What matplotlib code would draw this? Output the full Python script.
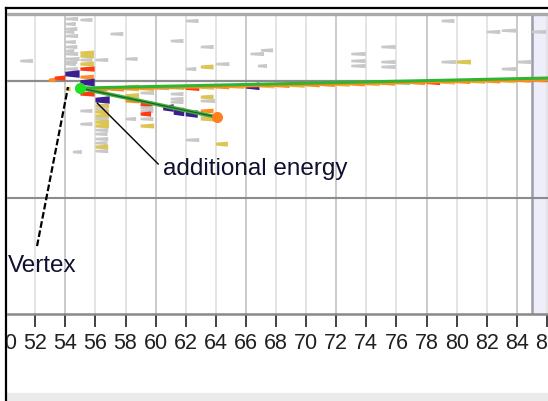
import matplotlib
matplotlib.use("Agg")
import matplotlib.pyplot as plt
from matplotlib.lines import Line2D
from matplotlib.patches import Rectangle

plt.rcParams["font.family"] = ["Liberation Sans", "DejaVu Sans"]

# tick labels along the beam axis
ticks = list(range(50, 88, 2))

# tracks: vertex -> end points
vertex = (54.98, -0.48)
long_end = (88.0, 0.25)
short_end = (64.08, -2.47)

# hits: column start, y, colour code, width
hit_x = [52.9, 53.3, 51.0,
         54.0, 54.0, 54.0, 54.0, 54.0, 54.0, 54.0, 54.0, 54.0, 54.0, 54.0, 54.0, 54.0, 54.0, 54.0,
         55.0, 55.0, 55.0, 55.0, 55.0, 55.0, 55.0, 55.0, 55.0, 55.0, 55.0, 55.9,
         56.0, 56.0, 56.0, 56.0, 56.0, 56.0, 56.0, 56.0, 56.0, 56.0, 56.0, 56.0, 56.0, 56.0, 56.0,
         57.0, 58.0, 58.0, 58.0, 58.0, 58.0,
         59.0, 59.0, 59.0, 59.0, 59.0, 59.0, 59.0,
         60.5, 61.3, 61.2, 62.0, 63.0, 63.0, 61.0, 61.0, 61.0,
         61.0, 62.0, 63.0, 63.0, 62.0, 64.0, 64.0, 62.0, 54.5, 63.0, 63.0, 63.0,
         66.3, 66.8, 67.0, 73.0, 73.0, 73.0, 75.0, 75.0, 75.0,
         79.0, 79.0, 80.0, 82.0, 83.0, 84.0, 83.0, 85.0]
hit_y = [0.07, 0.20, 1.37,
         4.25, 3.90, 3.56, 3.36, 3.08, 2.67, 2.33, 2.05, 1.85, 1.51, 1.30, 1.16, 0.82, 0.48, -0.55,
         4.18, 1.92, 1.71, 1.44, 1.16, 0.82, 0.27, -0.10, -0.89, -2.05, -2.95, -0.55,
         -1.30, -1.71, -1.92, -2.12, -2.40, -2.60, -2.81, -3.08, -3.36, -3.63, -3.97, -4.25, -4.52, -4.80, 1.44,
         3.22, -0.41, -1.00, -1.37, -2.60, 1.51,
         -1.62, -0.82, -1.85, -2.05, -2.26, -2.60, -3.08,
         -1.85, -2.00, -2.15, -2.26, -2.05, -2.47, -0.89, -1.23, -1.44,
         2.74, 4.11, 2.33, 0.96, 0.82, 1.16, -4.32, -4.04, -4.86, -1.37, -1.10, -2.60,
         1.85, 1.03, 2.10, 1.85, 1.37, 1.03, 2.33, 1.30, 0.96,
         4.11, 1.30, 1.30, 3.36, 3.45, 1.30, 0.82, 3.36]
hit_c = ["o", "r", "g",
         "g", "g", "g", "g", "g", "g", "g", "g", "g", "g", "g", "g", "g", "b", "y",
         "g", "y", "y", "g", "y", "r", "o", "b", "r", "g", "g", "o",
         "b", "y", "g", "y", "y", "g", "y", "y", "g", "g", "g", "g", "y", "g", "g",
         "g", "y", "y", "o", "g", "g",
         "r", "g", "g", "g", "r", "g", "y",
         "b", "r", "b", "b", "o", "g", "g", "g", "g",
         "g", "g", "g", "y", "g", "g", "y", "g", "g", "g", "y", "y",
         "g", "g", "g", "g", "g", "g", "g", "g", "g",
         "g", "g", "y", "g", "g", "g", "g", "g"]
hit_w = [0.45, 0.7, 0.85,
         0.85, 0.7, 0.8, 0.6, 0.85, 0.7, 0.8, 0.6, 0.85, 0.95, 0.8, 0.7, 0.85, 0.95, 0.35,
         0.8, 0.9, 0.9, 0.8, 0.9, 0.95, 0.9, 0.95, 0.95, 0.8, 0.8, 0.9,
         0.95, 0.9, 0.85, 0.9, 0.9, 0.85, 0.9, 0.9, 0.85, 0.8, 0.85, 0.8, 0.85, 0.85, 0.85,
         0.85, 0.9, 0.9, 0.9, 0.7, 0.8,
         0.8, 0.9, 0.85, 0.85, 0.7, 0.85, 0.9,
         0.7, 0.6, 0.7, 0.8, 0.85, 0.85, 0.85, 0.85, 0.85,
         0.85, 0.85, 0.85, 0.85, 0.7, 0.9, 0.8, 0.9, 0.6, 0.95, 0.85, 0.85,
         0.9, 0.6, 0.8, 0.95, 0.95, 0.95, 0.95, 0.95, 0.95,
         0.85, 0.95, 0.95, 0.9, 0.95, 0.95, 0.95, 0.95]

# hits below the long track
trk_x = list(range(57, 86))
trk_y = [-0.56, -0.54, -0.52, -0.49, -0.47, -0.50, -0.43, -0.41, -0.38, -0.36,
         -0.34, -0.32, -0.30, -0.27, -0.25, -0.23, -0.21, -0.19, -0.16, -0.14,
         -0.12, -0.10, -0.08, -0.05, -0.03, -0.01, 0.01, 0.04, 0.06]
trk_c = ["o", "y", "y", "l", "l", "r", "y", "o", "y", "b", "y", "o", "y", "o", "o",
         "y", "o", "y", "o", "l", "o", "r", "y", "o", "y", "o", "y", "o", "o"]

colors = {"g": "#c8c8c8", "y": "#dcc552", "r": "#ff3a12", "o": "#ff8c1e",
          "b": "#3b1f8e", "l": "#86d486"}
heights = {"g": 0.28, "y": 0.34, "r": 0.36, "o": 0.32, "b": 0.52, "l": 0.28}

fig = plt.figure(figsize=(5.48, 4.02), dpi=100)
ax = fig.add_axes([0, 87 / 402, 1, 300 / 402])
ax.set_xlim(49.66, 86.07)
ax.set_ylim(-15.95, 4.59)

# grid
for t in ticks:
    ax.axvline(t, color="#c6c6c6" if (t - 54) % 6 == 0 else "#e2e2e2", lw=1.3, zorder=0.5)
ax.axvspan(85.0, 90, color="#eeeefb", zorder=0.4)
ax.axvline(85.0, color="#9c9cac", lw=1.8, zorder=0.6)
ax.axhline(0, color="#8c8c8c", lw=1.6, zorder=0.7)
ax.axhline(-8, color="#8c8c8c", lw=1.5, zorder=0.7)


def draw_hit(x0, y, w, c):
    h = heights[c]
    xs = [x0, x0 + w, x0 + w, x0]
    ys = [y - h * 0.3, y - h / 2, y + h / 2, y + h * 0.3]
    ax.fill(xs, ys, color=colors[c], lw=0, zorder=2)


for x0, y, c, w in zip(hit_x, hit_y, hit_c, hit_w):
    draw_hit(x0, y, w, c)
for x0, y, c in zip(trk_x, trk_y, trk_c):
    draw_hit(x0, y, 0.9, c)

# tracks
ax.plot([vertex[0], long_end[0]], [vertex[1] - 0.12, long_end[1] - 0.12], color="#ff8c1e", lw=1.8, zorder=3)
ax.plot([vertex[0], long_end[0]], [vertex[1], long_end[1]], color="#2fb52f", lw=2.2, zorder=4)
ax.plot([vertex[0], short_end[0]], [vertex[1], short_end[1]], color="#3cb43c", lw=2.8, zorder=4)
ax.plot([vertex[0], short_end[0]], [vertex[1], short_end[1]], color="#2a5a2a", lw=0.9, zorder=4)
ax.plot(*short_end, "o", color="#ff7f1e", ms=7, zorder=5)
ax.plot(*vertex, "o", color="#22e022", ms=7, zorder=5)

# annotations
ax.plot([52.12, 54.18], [-11.3, -0.41], color="black", lw=1.6, ls=(0, (3, 1.2)), zorder=6)
ax.plot([56.12, 60.17], [-1.51, -5.68], color="black", lw=1.0, zorder=6)
ax.text(50.19, -13.0, "Vertex", fontsize=17.5, color="#101030", va="baseline", zorder=6)
ax.text(60.49, -6.37, "additional energy", fontsize=17.5, color="#101030", va="baseline", zorder=6)

# axis styling
ax.set_yticks([])
ax.set_xticks(ticks)
ax.set_xticklabels([str(t) for t in ticks])
ax.tick_params(axis="x", length=9, width=1.3, color="#333333", pad=4, labelsize=15.5, labelcolor="#202020")
for s in ["left", "right"]:
    ax.spines[s].set_visible(False)
ax.spines["top"].set_color("#aaaaaa")
ax.spines["top"].set_linewidth(2.4)
ax.spines["bottom"].set_color("#888888")
ax.spines["bottom"].set_linewidth(1.8)

# window frame
fig.add_artist(Rectangle((0, 0), 5.5 / 548, 1, color="white", zorder=10))
fig.add_artist(Rectangle((7 / 548, 0), 1, 8 / 402, color="#ebebeb", zorder=10))
fig.add_artist(Line2D([6 / 548, 6 / 548], [0, 393 / 402], color="black", lw=1.6, zorder=11))
fig.add_artist(Line2D([6 / 548, 1], [393 / 402, 393 / 402], color="black", lw=1.6, zorder=11))

fig.savefig("out.png", dpi=100)
